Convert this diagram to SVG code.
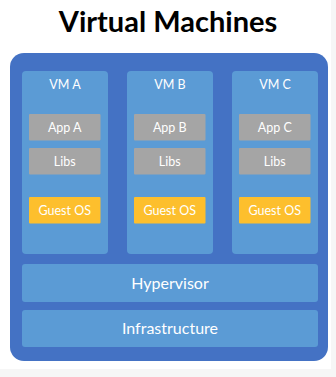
<svg xmlns="http://www.w3.org/2000/svg" width="336" height="377" viewBox="0 0 336 377">
<style>
.t{font-family:Lato,"Open Sans","Liberation Sans",sans-serif;fill:#ffffff;text-anchor:middle}
.vm{fill:#5B9BD5}
.g{fill:#A5A5A5}
.os{fill:#FDBF2D}
.s{font-size:12.5px}
.b{font-size:16px}
</style>
<rect x="0" y="0" width="336" height="377" fill="#ffffff"/>
<rect x="331" y="0" width="5" height="377" fill="#f6f6f6"/>
<rect x="0" y="369" width="336" height="8" fill="#f6f6f6"/>
<text x="168" y="32" font-family="Lato,'Open Sans','Liberation Sans',sans-serif" font-weight="bold" font-size="29" fill="#000000" text-anchor="middle">Virtual Machines</text>
<g id="host">
<rect x="10" y="53" width="318" height="308" rx="14" fill="#4472C4"/>
</g>
<g id="vmA">
<rect class="vm" x="22" y="71" width="86" height="183" rx="4"/>
<text class="t s" x="65" y="89">VM A</text>
<g id="appA"><rect class="g" x="29" y="114" width="71.5" height="26.5" rx="1"/><text class="t s" x="64.75" y="132">App A</text></g>
<g id="libsA"><rect class="g" x="29" y="148" width="71.5" height="26.5" rx="1"/><text class="t s" x="64.75" y="166">Libs</text></g>
<g id="osA"><rect class="os" x="29" y="197" width="71.5" height="26.5" rx="1"/><text class="t s" x="64.75" y="214.5">Guest OS</text></g>
</g>
<g id="vmB">
<rect class="vm" x="127" y="71" width="86" height="183" rx="4"/>
<text class="t s" x="170" y="89">VM B</text>
<g id="appB"><rect class="g" x="134" y="114" width="71.5" height="26.5" rx="1"/><text class="t s" x="169.75" y="132">App B</text></g>
<g id="libsB"><rect class="g" x="134" y="148" width="71.5" height="26.5" rx="1"/><text class="t s" x="169.75" y="166">Libs</text></g>
<g id="osB"><rect class="os" x="134" y="197" width="71.5" height="26.5" rx="1"/><text class="t s" x="169.75" y="214.5">Guest OS</text></g>
</g>
<g id="vmC">
<rect class="vm" x="232" y="71" width="86" height="183" rx="4"/>
<text class="t s" x="275" y="89">VM C</text>
<g id="appC"><rect class="g" x="239" y="114" width="71.5" height="26.5" rx="1"/><text class="t s" x="274.75" y="132">App C</text></g>
<g id="libsC"><rect class="g" x="239" y="148" width="71.5" height="26.5" rx="1"/><text class="t s" x="274.75" y="166">Libs</text></g>
<g id="osC"><rect class="os" x="239" y="197" width="71.5" height="26.5" rx="1"/><text class="t s" x="274.75" y="214.5">Guest OS</text></g>
</g>
<g id="hypervisor">
<rect class="vm" x="22" y="264" width="296" height="38" rx="3"/>
<text class="t b" x="170" y="289">Hypervisor</text>
</g>
<g id="infrastructure">
<rect class="vm" x="22" y="310" width="296" height="37" rx="3"/>
<text class="t b" x="170" y="334">Infrastructure</text>
</g>
<g id="connectors"/>
</svg>
